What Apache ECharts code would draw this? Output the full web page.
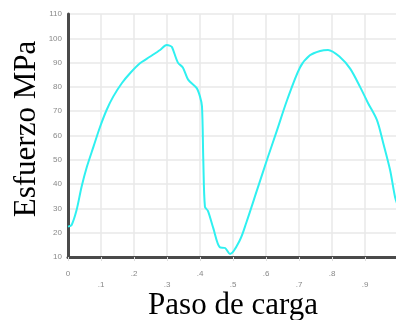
<!DOCTYPE html>
<html>
<head>
<meta charset="utf-8">
<script src="https://cdn.jsdelivr.net/npm/echarts@6/dist/echarts.min.js"></script>
<style>
  html, body { margin: 0; padding: 0; background: #fff; }
  #chart { width: 396px; height: 320px; }
</style>
</head>
<body>
<div id="chart"></div>
<script>
// paso de carga (x) y esfuerzo MPa (y)
var pasos = [0, 0.011, 0.026, 0.041, 0.057, 0.077, 0.097, 0.117, 0.137, 0.163, 0.188, 0.218, 0.248,
  0.279, 0.299, 0.308, 0.315, 0.333, 0.348, 0.364, 0.39, 0.40, 0.406, 0.41, 0.415, 0.424, 0.44,
  0.46, 0.476, 0.491, 0.521, 0.54, 0.573, 0.603, 0.633, 0.664, 0.703, 0.733, 0.764, 0.788, 0.824,
  0.855, 0.885, 0.909, 0.936, 0.955, 0.976, 0.991, 1.0];
var esfuerzo = [22.5, 23.2, 29.3, 38.8, 47, 55.3, 63.5, 70.5, 76, 81.5, 85.6, 89.7, 92.4,
  95.2, 97.2, 97, 96.4, 90, 88, 83, 79.5, 76, 72, 50, 30.6, 29, 22,
  14, 13.7, 11.2, 17, 24, 37.6, 50, 62, 74.6, 88, 93, 94.8, 95.2, 92.3,
  87.5, 80, 73.4, 66.4, 57, 45.8, 34.7, 31];
var yMin = 10, yMax = 110, yStep = 10;
var xMin = 0, xMax = 1, xStep = 0.1;

var serie = pasos.map(function (p, i) { return [p, esfuerzo[i]]; });

var chart = echarts.init(document.getElementById('chart'));
var option = {
  animation: false,
  backgroundColor: '#fff',
  grid: { left: 68, right: -2, top: 14, bottom: 63, outerBoundsMode: 'none' },
  xAxis: {
    type: 'value',
    min: xMin, max: xMax, interval: xStep,
    name: 'Paso de carga',
    nameLocation: 'middle',
    nameGap: 33,
    nameMoveOverlap: false,
    nameTextStyle: { fontFamily: 'Liberation Serif', fontSize: 31, color: '#000' },
    axisLine: { lineStyle: { color: '#4a4a4a', width: 3 } },
    axisTick: { show: true, length: 4, lineStyle: { color: '#ddd' } },
    axisLabel: {
      color: '#888', fontSize: 8, margin: 11, lineHeight: 11,
      formatter: function (v) {
        var n = Math.round(v * 10);
        if (n >= 10) return '';
        var t = n === 0 ? '0' : '.' + n;
        return n % 2 ? '\n' + t : t;
      }
    },
    splitLine: { show: true, lineStyle: { color: '#e8e8e8', width: 1.5 } }
  },
  yAxis: {
    type: 'value',
    min: yMin, max: yMax, interval: yStep,
    name: 'Esfuerzo MPa',
    nameLocation: 'middle',
    nameRotate: 90,
    nameGap: 26,
    nameMoveOverlap: false,
    nameTextStyle: { fontFamily: 'Liberation Serif', fontSize: 31, color: '#000', padding: [0, 0, 0, 13] },
    axisLine: { show: true, lineStyle: { color: '#4a4a4a', width: 3 } },
    axisTick: { show: false },
    axisLabel: { color: '#888', fontSize: 8, margin: 6 },
    splitLine: { show: true, lineStyle: { color: '#e8e8e8', width: 1.5 } }
  },
  series: [{
    type: 'line',
    data: serie,
    smooth: 0.3,
    showSymbol: false,
    lineStyle: { color: '#2ff0f0', width: 2 }
  }]
};
chart.setOption(option);
</script>
</body>
</html>
